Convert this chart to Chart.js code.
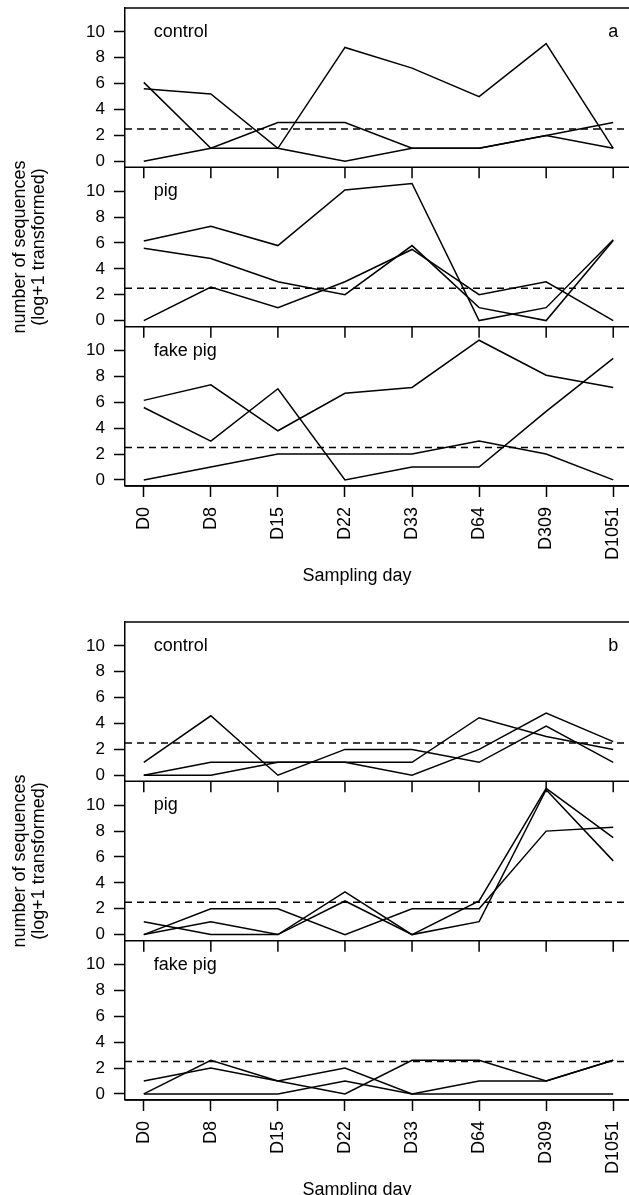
<!DOCTYPE html>
<html><head><meta charset="utf-8">
<script src="https://cdn.jsdelivr.net/npm/chart.js@4/dist/chart.umd.min.js"></script>
<style>
html,body{margin:0;padding:0;background:#fff;overflow:hidden;}
#wrap{position:relative;width:629px;height:1195px;overflow:hidden;background:#fff;}
.fig{position:absolute;left:0;width:640px;height:600px;}
</style></head><body>
<div id="wrap">
<div class="fig" style="top:0px"><canvas id="figA" width="640" height="600"></canvas></div>
<div class="fig" style="top:614px"><canvas id="figB" width="640" height="600"></canvas></div>
</div>
<script>
// ---- data ----
const days = ['D0','D8','D15','D22','D33','D64','D309','D1051'];
const yTickValues = [0,2,4,6,8,10];
const threshold = 2.5;
const panelNames = ['control','pig','fake pig'];
const yTitleLines = ['number of sequences','(log+1 transformed)'];
const xTitle = 'Sampling day';

// figure a
const aControl1 = [6.1, 1, 1, 8.8, 7.2, 5.0, 9.1, 1];
const aControl2 = [0, 1, 3, 3, 1, 1, 2, 3];
const aControl3 = [5.6, 5.2, 1, 0, 1, 1, 2, 1];
const aPig1 = [6.15, 7.3, 5.8, 10.1, 10.6, 0, 1, 6.25];
const aPig2 = [5.6, 4.8, 3, 2, 5.8, 1, 0, 6.2];
const aPig3 = [0, 2.6, 1, 3, 5.5, 2, 3, 0];
const aFake1 = [6.15, 7.35, 3.8, 6.7, 7.15, 10.8, 8.1, 7.15];
const aFake2 = [5.6, 3.0, 7.05, 0, 1, 1, 5.3, 9.4];
const aFake3 = [0, 1, 2, 2, 2, 3, 2, 0];

// figure b
const bControl1 = [1, 4.6, 0, 2, 2, 1, 3.8, 1];
const bControl2 = [0, 1, 1, 1, 1, 4.45, 3.0, 2];
const bControl3 = [0, 0, 1, 1, 0, 2, 4.8, 2.6];
const bPig1 = [1, 0, 0, 3.3, 0, 1, 11.2, 5.7];
const bPig2 = [0, 2, 2, 0, 2, 2, 8.0, 8.3];
const bPig3 = [0, 1, 0, 2.6, 0, 2.6, 11.3, 7.5];
const bFake1 = [1, 2, 1, 2, 0, 1, 1, 2.6];
const bFake2 = [0, 2.6, 1, 0, 2.6, 2.6, 1, 2.6];
const bFake3 = [0, 0, 0, 1, 0, 0, 0, 0];

// ---- layout / style ----
const X_MIN = 0.72, X_MAX = 8.28;
const Y_MIN = -0.47, Y_MAX = 11.85;
const FONT = '"Liberation Sans", Arial, Helvetica, sans-serif';
const FS = 18;
const FS_Y = 17;
const TICK = 11;
const LW = 1.5;
Chart.defaults.font.family = FONT;
Chart.defaults.color = '#000';

function makeFigure(canvasId, letter, panels) {
  const yIds = ['yControl','yPig','yFake'];
  const datasets = [];
  panels.forEach((series, p) => {
    series.forEach(vals => datasets.push({
      data: vals.map((v, i) => ({x: i + 1, y: v})),
      yAxisID: yIds[p], xAxisID: 'x',
      borderColor: '#000', borderWidth: LW, pointRadius: 0, tension: 0, fill: false
    }));
    datasets.push({
      data: [{x: X_MIN, y: threshold}, {x: X_MAX, y: threshold}],
      yAxisID: yIds[p], xAxisID: 'x',
      borderColor: '#000', borderWidth: LW, borderDash: [7, 5], pointRadius: 0, fill: false
    });
  });

  const yScale = (w) => ({
    type: 'linear', position: 'left', stack: 'panels', stackWeight: 1, weight: w,
    min: Y_MIN, max: Y_MAX,
    afterBuildTicks: s => { s.ticks = yTickValues.map(v => ({value: v})); },
    afterFit: s => { s.width = 125; s.paddingTop = 0; s.paddingBottom = 0; },
    grid: {display: true, drawOnChartArea: false, drawTicks: true, tickLength: TICK, tickColor: '#000', tickWidth: LW},
    border: {display: true, color: '#000', width: LW},
    ticks: {color: '#000', font: {family: FONT, size: FS_Y}, padding: 9, autoSkip: false}
  });

  const deco = {
    id: 'deco' + letter,
    afterDraw(chart) {
      const ctx = chart.ctx, xs = chart.scales.x, area = chart.chartArea;
      ctx.save();
      ctx.strokeStyle = '#000'; ctx.lineWidth = LW;
      ctx.beginPath(); ctx.moveTo(area.left, area.top); ctx.lineTo(area.right, area.top); ctx.stroke();
      ctx.fillStyle = '#000';
      ctx.font = FS + 'px ' + FONT;
      yIds.forEach((id, p) => {
        const ys = chart.scales[id];
        ctx.beginPath(); ctx.moveTo(area.left, ys.bottom); ctx.lineTo(area.right, ys.bottom); ctx.stroke();
        if (p < yIds.length - 1) {
          ctx.beginPath();
          days.forEach((d, i) => {
            const px = xs.getPixelForValue(i + 1);
            ctx.moveTo(px, ys.bottom); ctx.lineTo(px, ys.bottom + TICK);
          });
          ctx.stroke();
        }
        ctx.textAlign = 'left'; ctx.textBaseline = 'middle';
        ctx.fillText(panelNames[p], xs.getPixelForValue(1) + 10, ys.getPixelForValue(10));
      });
      ctx.textAlign = 'center'; ctx.textBaseline = 'middle';
      ctx.fillText(letter, xs.getPixelForValue(8), chart.scales[yIds[0]].getPixelForValue(10));
      // x axis title
      ctx.fillText(xTitle, 357, xs.bottom - 24);
      // y axis title
      const cy = (area.top + area.bottom) / 2;
      ctx.translate(20, cy); ctx.rotate(-Math.PI / 2);
      ctx.fillText(yTitleLines[0], 0, 0);
      ctx.fillText(yTitleLines[1], 0, 19);
      ctx.restore();
    }
  };

  return new Chart(document.getElementById(canvasId), {
    type: 'line',
    data: {datasets},
    plugins: [deco],
    options: {
      responsive: false, animation: false, devicePixelRatio: 1,
      layout: {padding: {top: 8, right: 8, left: 0, bottom: 0}, autoPadding: false},
      plugins: {legend: {display: false}, tooltip: {enabled: false}},
      scales: {
        x: {
          type: 'linear', position: 'bottom', min: X_MIN, max: X_MAX,
          afterBuildTicks: s => { s.ticks = days.map((d, i) => ({value: i + 1})); },
          afterFit: s => { s.height = 114; s.paddingLeft = 0; s.paddingRight = 0; },
          grid: {display: true, drawOnChartArea: false, drawTicks: true, tickLength: TICK, tickColor: '#000', tickWidth: LW},
          border: {display: true, color: '#000', width: LW},
          ticks: {callback: (v, i) => days[i], minRotation: 90, maxRotation: 90, autoSkip: false,
                  color: '#000', font: {family: FONT, size: FS}, padding: 10},
          title: {display: false}
        },
        yControl: yScale(3),
        yPig: yScale(2),
        yFake: yScale(1)
      }
    }
  });
}

makeFigure('figA', 'a', [[aControl1, aControl2, aControl3], [aPig1, aPig2, aPig3], [aFake1, aFake2, aFake3]]);
makeFigure('figB', 'b', [[bControl1, bControl2, bControl3], [bPig1, bPig2, bPig3], [bFake1, bFake2, bFake3]]);
</script>
</body></html>
